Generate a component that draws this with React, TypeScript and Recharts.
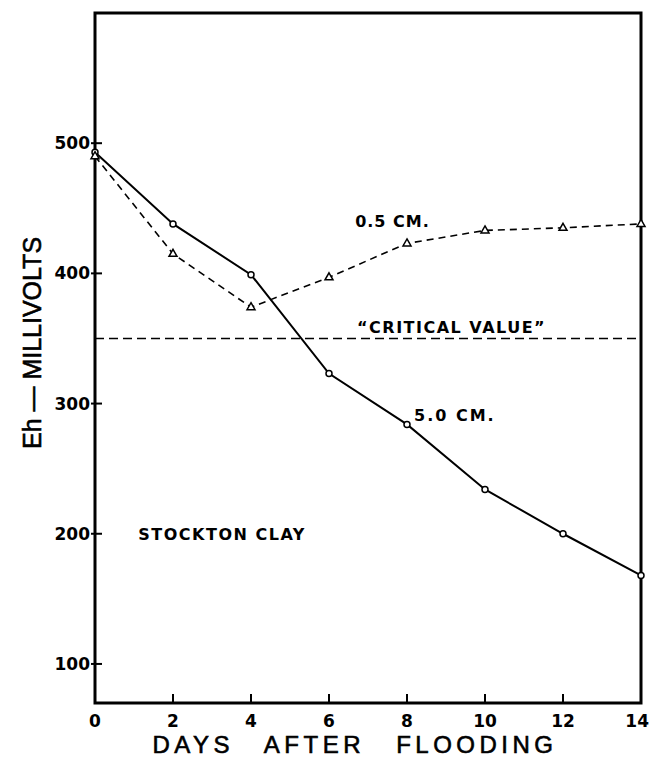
import React from "react";
import {
  LineChart,
  Line,
  XAxis,
  YAxis,
  Label,
  ReferenceLine,
  ReferenceArea,
  ReferenceDot,
} from "recharts";

// values (Stockton clay, Eh in mV)
const days = [0, 2, 4, 6, 8, 10, 12, 14];
const eh05cm = [490, 415, 374, 397, 423, 433, 435, 438];
const eh50cm = [493, 438, 399, 323, 284, 234, 200, 168];
const dayTicks = [0, 2, 4, 6, 8, 10, 12, 14];
const mvTicks = [100, 200, 300, 400, 500];
const criticalValue = 350;

const data = days.map((d, i) => ({ day: d, shallow: eh05cm[i], deep: eh50cm[i] }));

const ink = "#000";
const tickFont = { fontFamily: "DejaVu Sans", fontWeight: 700, fontSize: 17 };
const noteFont = { fontFamily: "DejaVu Sans", fontWeight: 700, fontSize: 16 };

const LeftTick = (props: any) => {
  const { x, y, payload } = props;
  return (
    <g>
      <line x1={x + 1} x2={x + 12} y1={y} y2={y} stroke={ink} strokeWidth={2} />
      <text x={x} y={y} dy="0.36em" textAnchor="end" fill={ink} {...tickFont}>
        {payload.value}
      </text>
    </g>
  );
};

const RightTick = (props: any) => {
  const { x, y } = props;
  return <line x1={x - 9} x2={x} y1={y} y2={y} stroke={ink} strokeWidth={2} />;
};

const BottomTick = (props: any) => {
  const { x, y, payload } = props;
  const last = payload.value === dayTicks[dayTicks.length - 1];
  return (
    <g>
      <line x1={x} x2={x} y1={y} y2={y - 9} stroke={ink} strokeWidth={2} />
      <text
        x={last ? x + 8 : x}
        y={y + 18}
        dy="0.36em"
        textAnchor={last ? "end" : "middle"}
        fill={ink}
        {...tickFont}
      >
        {payload.value}
      </text>
    </g>
  );
};

const Triangle = (props: any) => {
  const { cx, cy, index } = props;
  if (cx == null || cy == null) return null;
  return (
    <path
      key={"t" + index}
      d={`M${cx},${cy - 4.5} L${cx + 4},${cy + 2.5} L${cx - 4},${cy + 2.5} Z`}
      fill="#fff"
      stroke={ink}
      strokeWidth={1.5}
    />
  );
};

const note = (text: string, spacing: number) => (props: any) => {
  const { x, y } = props.viewBox;
  return (
    <text x={x} y={y} dy="0.36em" fill={ink} {...noteFont} letterSpacing={spacing}>
      {text}
    </text>
  );
};

const XTitle = (props: any) => {
  const { x, y, width } = props.viewBox;
  return (
    <text
      x={x + width / 2 - 13}
      y={y + 41}
      dy="0.36em"
      textAnchor="middle"
      fill={ink}
      stroke={ink}
      strokeWidth={0.6}
      fontFamily="Liberation Sans"
      fontSize={24}
      letterSpacing={4.5}
      style={{ wordSpacing: 20 }}
    >
      DAYS AFTER FLOODING
    </text>
  );
};

const YTitle = (props: any) => {
  const { y, height } = props.viewBox;
  const cx = 32;
  const cy = y + height / 2 - 15;
  return (
    <text
      x={cx}
      y={cy}
      dy="0.36em"
      textAnchor="middle"
      transform={`rotate(-90, ${cx}, ${cy})`}
      fill={ink}
      stroke={ink}
      strokeWidth={0.6}
      fontFamily="Liberation Sans"
      fontSize={25}
    >
      Eh — MILLIVOLTS
    </text>
  );
};

const App: React.FC = () => {
  return (
    <div style={{ position: "absolute", left: 0, top: 0, background: "#fff" }}>
      <LineChart
        width={649}
        height={764}
        data={data}
        margin={{ top: 13, right: 0, left: 0, bottom: 0 }}
      >
        <XAxis
          dataKey="day"
          type="number"
          domain={[0, 14]}
          ticks={dayTicks}
          height={61}
          axisLine={false}
          tickLine={false}
          tickSize={0}
          tickMargin={0}
          tick={<BottomTick />}
          interval={0}
        >
          <Label content={<XTitle />} />
        </XAxis>
        <YAxis
          type="number"
          domain={[70, 600]}
          ticks={mvTicks}
          width={95}
          axisLine={false}
          tickLine={false}
          tickSize={0}
          tickMargin={5}
          tick={<LeftTick />}
          interval={0}
        >
          <Label content={<YTitle />} />
        </YAxis>
        <YAxis
          yAxisId="r"
          orientation="right"
          type="number"
          domain={[70, 600]}
          ticks={mvTicks}
          width={8}
          axisLine={false}
          tickLine={false}
          tickSize={0}
          tickMargin={0}
          tick={<RightTick />}
          interval={0}
        />
        <ReferenceArea
          x1={0}
          x2={14}
          y1={70}
          y2={600}
          fill="none"
          stroke={ink}
          strokeWidth={3}
        />
        <ReferenceLine
          y={criticalValue}
          stroke={ink}
          strokeWidth={1.6}
          strokeDasharray="9 5"
        />
        <Line
          dataKey="deep"
          stroke={ink}
          strokeWidth={2}
          dot={{ r: 3, fill: "#fff", stroke: ink, strokeWidth: 1.5 }}
          isAnimationActive={false}
        />
        <Line
          dataKey="shallow"
          stroke={ink}
          strokeWidth={1.6}
          strokeDasharray="7 5"
          dot={<Triangle />}
          isAnimationActive={false}
        />
        <ReferenceDot x={6.67} y={440} r={0} stroke="none" label={{ content: note("0.5 CM.", 1) }} />
        <ReferenceDot
          x={6.72}
          y={359}
          r={0}
          stroke="none"
          label={{ content: note("\u201CCRITICAL VALUE\u201D", 1.5) }}
        />
        <ReferenceDot x={8.18} y={291} r={0} stroke="none" label={{ content: note("5.0 CM.", 2) }} />
        <ReferenceDot
          x={1.11}
          y={200}
          r={0}
          stroke="none"
          label={{ content: note("STOCKTON CLAY", 1.5) }}
        />
      </LineChart>
    </div>
  );
};

export default App;
